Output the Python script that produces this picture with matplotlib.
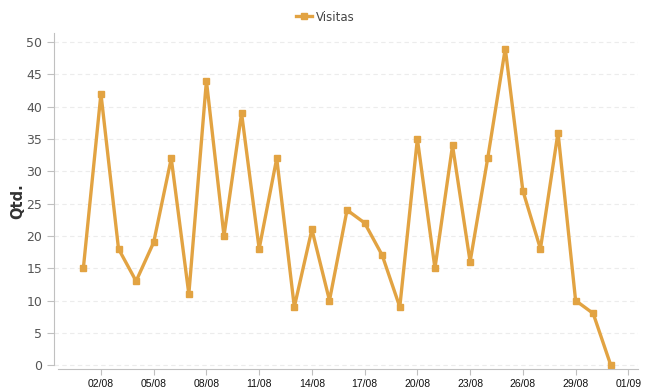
import matplotlib.pyplot as plt
import matplotlib.dates as mdates
import numpy as np
from datetime import date, timedelta

days = [date(2024, 8, 1) + timedelta(days=i) for i in range(31)]
visitas = [15, 42, 18, 13, 19, 32, 11, 44, 20, 39, 18, 32, 9, 21, 10, 24,
           22, 17, 9, 35, 15, 34, 16, 32, 49, 27, 18, 36, 10, 8, 0]
tick_days = [date(2024, 8, 2) + timedelta(days=3 * i) for i in range(11)]

line_color = "#E2A342"


def main() -> None:
    fig = plt.figure(figsize=(6.5, 3.9), dpi=100)
    ax = fig.add_axes([54 / 650, 21 / 390, (638 - 54) / 650, (369 - 33) / 390])

    ax.plot(days, visitas, color=line_color, linewidth=2.4, marker="s",
            markersize=5, label="Visitas")

    x0 = mdates.date2num(days[0])
    ax.set_xlim(x0 - 1.67, x0 + 31.55)
    ax.set_ylim(-0.6, 51.4)

    ax.set_yticks(np.arange(0, 51, 5))
    ax.set_xticks(tick_days)
    ax.xaxis.set_major_formatter(mdates.DateFormatter("%d/%m"))

    ax.yaxis.grid(True, color="#ececec", linestyle=(0, (4, 3)), linewidth=0.8)
    ax.set_axisbelow(True)

    for side in ("top", "right"):
        ax.spines[side].set_visible(False)
    ax.spines["left"].set_color("#c0c0c0")
    ax.spines["bottom"].set_color("#c0c0c0")
    ax.spines["left"].set_bounds(0, 51.4)
    ax.spines["bottom"].set_bounds(x0 - 1.45, x0 + 31.55)

    ax.tick_params(axis="y", colors="#c0c0c0", labelcolor="#555555",
                   labelsize=9, length=5, width=0.8)
    ax.tick_params(axis="x", colors="#c0c0c0", labelcolor="#111111",
                   labelsize=7.5, length=4, width=0.8, pad=3)
    for lbl in ax.get_xticklabels():
        lbl.set_family("Liberation Sans")

    ax.set_ylabel("Qtd.", fontsize=10.5, fontweight="bold", color="#333333",
                  labelpad=1)

    fig.legend(loc="upper center", bbox_to_anchor=(0.5, 1.0), frameon=False,
               fontsize=8.5, labelcolor="#444444", handlelength=1.4,
               handletextpad=0.3)

    fig.savefig("out.png", dpi=100)
    plt.close(fig)


if __name__ == "__main__":
    main()
